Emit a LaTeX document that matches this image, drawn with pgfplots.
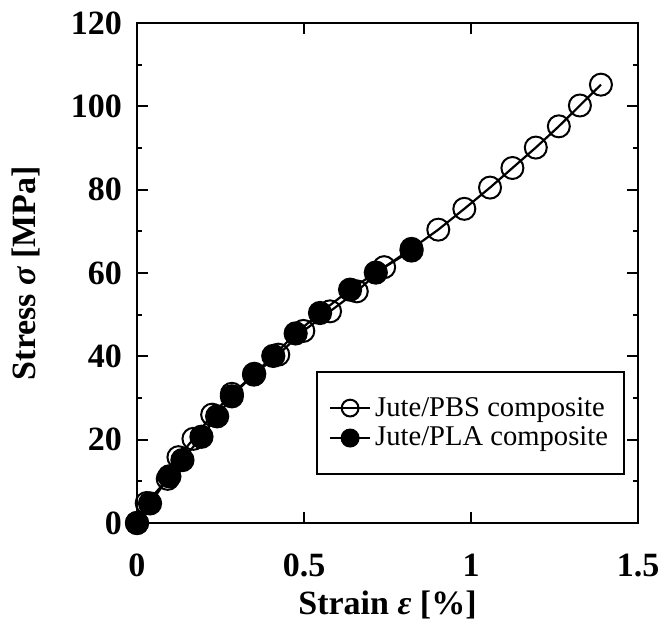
\documentclass[border=0pt]{standalone}
\usepackage{fontspec}
\setmainfont{Liberation Serif}
\usepackage{pgfplots}
\pgfplotsset{compat=1.18}

\begin{document}
\begin{tikzpicture}
\begin{axis}[
  name=ax,
  scale only axis,
  width=250.5pt, height=250pt,
  xmin=0, xmax=1.5, ymin=0, ymax=120,
  xtick={0,0.5,1,1.5},
  ytick={0,20,40,60,80,100,120},
  minor y tick num=1,
  tick align=inside,
  major tick length=5.5pt,
  minor tick length=2.7pt,
  axis line style={line width=1.3pt},
  every tick/.style={line width=1pt, black},
  /pgf/number format/assume math mode=true,
  tick label style={font=\fontsize{17}{17}\selectfont\bfseries},
  xticklabel style={yshift=-12pt},
  yticklabel style={xshift=-4pt},
  label style={font=\fontsize{17}{17}\selectfont\bfseries},
  xlabel={Strain {\itshape ε} [\%]},
  ylabel={Stress {\itshape σ} [MPa]},
  xlabel style={yshift=0pt},
  ylabel style={yshift=8.5pt},
  clip=false,
  legend style={
    at={(0.972,0.098)}, anchor=south east,
    draw=black, line width=0.9pt, outer sep=0pt,
    inner xsep=6pt, inner ysep=10.5pt,
    font=\fontsize{14.3}{15}\selectfont,
    row sep=0pt,
  },
  legend cell align=left,
  legend image code/.code={
    \draw[line width=1.1pt] (0pt,0pt) -- (20pt,0pt);
    \draw[mark size=4.2pt] plot coordinates {(10pt,0pt)};
  },
]
\addplot[black, line width=1.1pt, mark=o, mark size=5.5pt,
  mark options={line width=1pt, fill=none}] coordinates {
  (0,0) (0.029,4.8) (0.092,10.6) (0.124,15.8) (0.169,20.2) (0.225,26.0)
  (0.284,31.0) (0.350,35.6) (0.423,40.4) (0.498,46.1) (0.578,50.8)
  (0.658,55.6) (0.740,61.4) (0.822,65.8) (0.902,70.4) (0.980,75.4)
  (1.057,80.5) (1.124,85.2) (1.194,90.1) (1.263,95.2) (1.326,100.2)
  (1.389,105.2)
};
\addlegendentry{Jute/PBS composite}
\addplot[black, line width=1.1pt, mark=*, mark size=5.5pt,
  mark options={fill=black}] coordinates {
  (0,0) (0.039,4.7) (0.097,11.2) (0.136,15.1) (0.193,20.7) (0.240,25.6)
  (0.284,30.4) (0.351,35.8) (0.408,40.1) (0.475,45.5) (0.548,50.4)
  (0.638,56.0) (0.715,60.1) (0.822,65.4)
};
\addlegendentry{Jute/PLA composite}
\end{axis}
\pgfresetboundingbox
\path[use as bounding box] ([shift={(-68.5pt,-49pt)}]ax.south west)
  rectangle ([shift={(10pt,11.5pt)}]ax.north east);
\end{tikzpicture}
\end{document}
